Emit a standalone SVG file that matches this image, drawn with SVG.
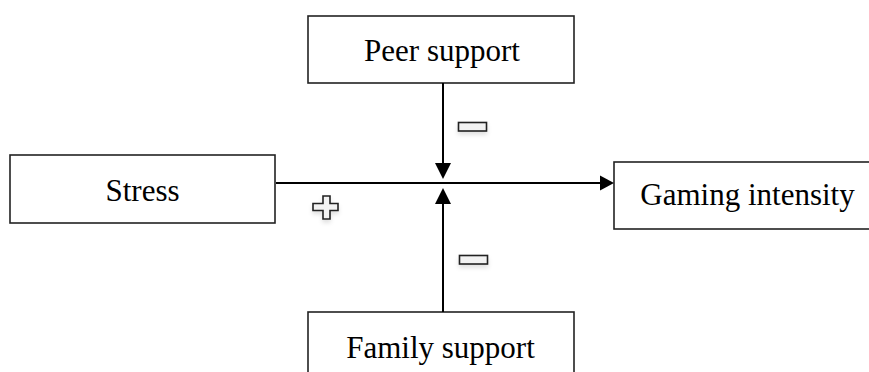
<svg xmlns="http://www.w3.org/2000/svg" width="869" height="372" viewBox="0 0 869 372">
<style>
.box{fill:#fff;stroke:#222;stroke-width:1.6}
.lbl{font-family:"Liberation Serif","Times New Roman",serif;font-size:31px;fill:#000;text-anchor:middle}
.ln{stroke:#000;stroke-width:2;fill:none}
.sign{fill:#f2f2f2;stroke:#222;stroke-width:1.6}
</style>
<defs>
<filter id="sh" x="-30%" y="-50%" width="160%" height="250%">
<feDropShadow dx="0" dy="3" stdDeviation="2" flood-color="#000" flood-opacity="0.12"/>
</filter>
</defs>
<rect width="869" height="372" fill="#fff"/>
<g id="peer"><rect class="box" x="308" y="16" width="266" height="67"/><text class="lbl" x="442" y="61">Peer support</text></g>
<g id="stress"><rect class="box" x="10" y="155" width="265" height="68"/><text class="lbl" x="142.5" y="201">Stress</text></g>
<g id="gaming"><rect class="box" x="614" y="162" width="270" height="67"/><text class="lbl" x="747.5" y="205">Gaming intensity</text></g>
<g id="family"><rect class="box" x="308" y="312" width="266" height="80"/><text class="lbl" x="440.5" y="358">Family support</text></g>
<g id="connectors">
<line class="ln" x1="276" y1="183" x2="601" y2="183"/>
<polygon points="600,175.5 614,183 600,190.5" fill="#000"/>
<line class="ln" x1="443" y1="83" x2="443" y2="165"/>
<polygon points="435,163 451,163 443,179" fill="#000"/>
<line class="ln" x1="443" y1="312" x2="443" y2="203"/>
<polygon points="435,204 451,204 443,188" fill="#000"/>
</g>
<g id="signs" filter="url(#sh)">
<rect class="sign" x="458.5" y="122.5" width="28" height="8.5"/>
<rect class="sign" x="459.5" y="255.5" width="28" height="8.5"/>
<path class="sign" d="M323,196 H330 V203.5 H338 V210.5 H330 V219 H323 V210.5 H313 V203.5 H323 Z"/>
</g>
</svg>
